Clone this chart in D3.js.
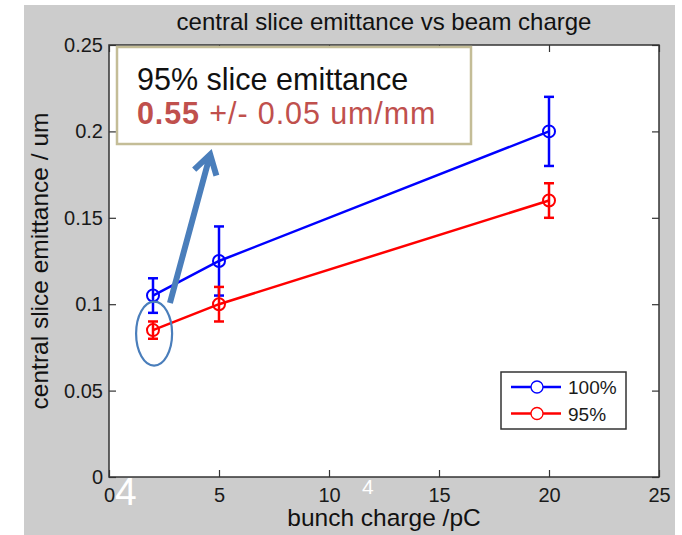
<!DOCTYPE html>
<html>

<head>
  <meta charset="utf-8" />
  <script src="https://cdn.jsdelivr.net/npm/d3@7"></script>
  <style>
    body {
      margin: 0;
      background: #fff;
    }

    text {
      font-family: "Liberation Sans", Arial, sans-serif;
    }

    .frame {
      fill: none;
      stroke: #333;
      stroke-width: 1.5px;
    }
  </style>
</head>

<body>
</body>
<script>
  "use strict";

  // bunch charge (pC) and central slice emittance (um) with error bars
  var charge = [2, 5, 20];
  var emit100 = [0.105, 0.125, 0.2];
  var err100 = [0.01, 0.02, 0.02];
  var emit95 = [0.085, 0.1, 0.16];
  var err95 = [0.005, 0.01, 0.01];

  var xTicks = [0, 5, 10, 15, 20, 25];
  var yTicks = [0, 0.05, 0.1, 0.15, 0.2, 0.25];

  var seriesNames = ["100%", "95%"];
  var seriesColors = ["#0000ff", "#ff0000"];

  var width = 682,
    height = 535;

  var plot = {
    left: 109,
    right: 659,
    top: 45,
    bottom: 477
  };

  var x = d3.scaleLinear().domain([0, 25]).range([plot.left, plot.right]);
  var y = d3.scaleLinear().domain([0, 0.25]).range([plot.bottom, plot.top]);

  var svg = d3.select("body")
    .append("svg")
    .attr("width", width)
    .attr("height", height);

  // figure background
  svg.append("rect")
    .attr("x", 24)
    .attr("y", 5)
    .attr("width", 651)
    .attr("height", 530)
    .attr("fill", "#cccccc");

  svg.append("rect")
    .attr("x", plot.left)
    .attr("y", plot.top)
    .attr("width", plot.right - plot.left)
    .attr("height", plot.bottom - plot.top)
    .attr("fill", "#fff");

  // axes, ticks pointing inward on all four sides
  var tickLen = 7;

  svg.append("g")
    .attr("transform", "translate(0," + plot.bottom + ")")
    .call(d3.axisBottom(x).tickValues(xTicks).tickSize(-tickLen).tickPadding(11).tickFormat(d3.format("d")))
    .call(function(g) {
      g.select(".domain").remove();
      g.selectAll("line").attr("stroke", "#333").attr("stroke-width", 1.2);
      g.selectAll("text").attr("font-size", "20px").attr("fill", "#1a1a1a");
    });

  svg.append("g")
    .attr("transform", "translate(0," + plot.top + ")")
    .call(d3.axisTop(x).tickValues(xTicks).tickSize(-tickLen).tickFormat(""))
    .call(function(g) {
      g.select(".domain").remove();
      g.selectAll("line").attr("stroke", "#333").attr("stroke-width", 1.2);
    });

  svg.append("g")
    .attr("transform", "translate(" + plot.left + ",0)")
    .call(d3.axisLeft(y).tickValues(yTicks).tickSize(-tickLen).tickPadding(6).tickFormat(function(d) {
      return d3.format("")(+d.toFixed(2));
    }))
    .call(function(g) {
      g.select(".domain").remove();
      g.selectAll("line").attr("stroke", "#333").attr("stroke-width", 1.2);
      g.selectAll("text").attr("font-size", "20px").attr("fill", "#1a1a1a");
    });

  svg.append("g")
    .attr("transform", "translate(" + plot.right + ",0)")
    .call(d3.axisRight(y).tickValues(yTicks).tickSize(-tickLen).tickFormat(""))
    .call(function(g) {
      g.select(".domain").remove();
      g.selectAll("line").attr("stroke", "#333").attr("stroke-width", 1.2);
    });

  svg.append("rect")
    .attr("class", "frame")
    .attr("x", plot.left)
    .attr("y", plot.top)
    .attr("width", plot.right - plot.left)
    .attr("height", plot.bottom - plot.top);

  // titles
  svg.append("text")
    .attr("x", (plot.left + plot.right) / 2)
    .attr("y", 30)
    .attr("text-anchor", "middle")
    .attr("font-size", "24px")
    .attr("fill", "#111")
    .text("central slice emittance vs beam charge");

  svg.append("text")
    .attr("x", (plot.left + plot.right) / 2)
    .attr("y", 526)
    .attr("text-anchor", "middle")
    .attr("font-size", "24.5px")
    .attr("fill", "#111")
    .text("bunch charge /pC");

  svg.append("text")
    .attr("transform", "translate(48," + (plot.top + plot.bottom) / 2 + ") rotate(-90)")
    .attr("text-anchor", "middle")
    .attr("font-size", "24.5px")
    .attr("fill", "#111")
    .text("central slice emittance / um");

  // series
  var series = [{
    values: emit100,
    errors: err100
  }, {
    values: emit95,
    errors: err95
  }];

  var line = d3.line()
    .x(function(d) {
      return x(d.c);
    })
    .y(function(d) {
      return y(d.v);
    });

  var capW = 5;

  series.forEach(function(s, si) {
    var pts = charge.map(function(c, i) {
      return {
        c: c,
        v: s.values[i],
        e: s.errors[i]
      };
    });
    var color = seriesColors[si];
    var g = svg.append("g");

    g.append("path")
      .datum(pts)
      .attr("d", line)
      .attr("fill", "none")
      .attr("stroke", color)
      .attr("stroke-width", 2.5);

    var eb = g.selectAll("g.err").data(pts).enter().append("g").attr("class", "err");
    eb.append("line")
      .attr("x1", function(d) { return x(d.c); })
      .attr("x2", function(d) { return x(d.c); })
      .attr("y1", function(d) { return y(d.v - d.e); })
      .attr("y2", function(d) { return y(d.v + d.e); });
    eb.append("line")
      .attr("x1", function(d) { return x(d.c) - capW; })
      .attr("x2", function(d) { return x(d.c) + capW; })
      .attr("y1", function(d) { return y(d.v - d.e); })
      .attr("y2", function(d) { return y(d.v - d.e); });
    eb.append("line")
      .attr("x1", function(d) { return x(d.c) - capW; })
      .attr("x2", function(d) { return x(d.c) + capW; })
      .attr("y1", function(d) { return y(d.v + d.e); })
      .attr("y2", function(d) { return y(d.v + d.e); });
    eb.selectAll("line").attr("stroke", color).attr("stroke-width", 2.5);

    g.selectAll("circle").data(pts).enter().append("circle")
      .attr("cx", function(d) { return x(d.c); })
      .attr("cy", function(d) { return y(d.v); })
      .attr("r", 6)
      .attr("fill", "none")
      .attr("stroke", color)
      .attr("stroke-width", 2);
  });

  // legend
  var legend = svg.append("g").attr("transform", "translate(501,372)");
  legend.append("rect")
    .attr("width", 125)
    .attr("height", 57)
    .attr("fill", "#fff")
    .attr("stroke", "#333")
    .attr("stroke-width", 1.5);

  seriesNames.forEach(function(name, i) {
    var ly = 15 + i * 26.5;
    legend.append("line")
      .attr("x1", 10).attr("x2", 60)
      .attr("y1", ly).attr("y2", ly)
      .attr("stroke", seriesColors[i])
      .attr("stroke-width", 2.5);
    legend.append("circle")
      .attr("cx", 36).attr("cy", ly).attr("r", 6)
      .attr("fill", "#fff")
      .attr("stroke", seriesColors[i])
      .attr("stroke-width", 1.3);
    legend.append("text")
      .attr("x", 67)
      .attr("y", ly + 7)
      .attr("font-size", "19px")
      .attr("fill", "#1a1a1a")
      .text(name);
  });

  // slide annotations: ellipse round the 2 pC point, arrow, text box
  var annoColor = "#4a7ebb";

  svg.append("ellipse")
    .attr("cx", x(2.05))
    .attr("cy", y(0.083))
    .attr("rx", 18)
    .attr("ry", 32)
    .attr("fill", "none")
    .attr("stroke", annoColor)
    .attr("stroke-width", 2.2);

  var a0 = [x(2.77), y(0.1007)],
    a1 = [x(4.6), y(0.1866)];
  var ang = Math.atan2(a0[1] - a1[1], a0[0] - a1[0]),
    headLen = 22,
    spread = 0.55;
  var h1 = [a1[0] + headLen * Math.cos(ang - spread), a1[1] + headLen * Math.sin(ang - spread)],
    h2 = [a1[0] + headLen * Math.cos(ang + spread), a1[1] + headLen * Math.sin(ang + spread)];

  svg.append("path")
    .attr("d", "M" + a0 + "L" + a1 + "M" + h1 + "L" + a1 + "L" + h2)
    .attr("fill", "none")
    .attr("stroke", annoColor)
    .attr("stroke-width", 6)
    .attr("stroke-linejoin", "miter");

  var box = svg.append("g").attr("transform", "translate(117,47)");
  box.append("rect")
    .attr("width", 354)
    .attr("height", 97)
    .attr("fill", "#fff")
    .attr("stroke", "#c4bd97")
    .attr("stroke-width", 2.5);

  box.append("text")
    .attr("x", 20)
    .attr("y", 43)
    .attr("font-family", "'Open Sans', sans-serif")
    .attr("font-size", "30.5px")
    .attr("fill", "#111")
    .text("95% slice emittance");

  var t2 = box.append("text")
    .attr("x", 20)
    .attr("y", 77)
    .attr("font-family", "'Open Sans', sans-serif")
    .attr("font-size", "30.5px")
    .attr("letter-spacing", "0.9px")
    .attr("fill", "#c0504d");
  t2.append("tspan").attr("font-weight", "bold").text("0.55");
  t2.append("tspan").text(" +/- 0.05 um/mm");

  // stray white slide numbers in the picture
  svg.append("text")
    .attr("x", 115)
    .attr("y", 505)
    .attr("font-size", "39px")
    .attr("fill", "#fff")
    .text("4");

  svg.append("text")
    .attr("x", 362)
    .attr("y", 494)
    .attr("font-size", "21px")
    .attr("fill", "#fff")
    .text("4");
</script>

</html>
